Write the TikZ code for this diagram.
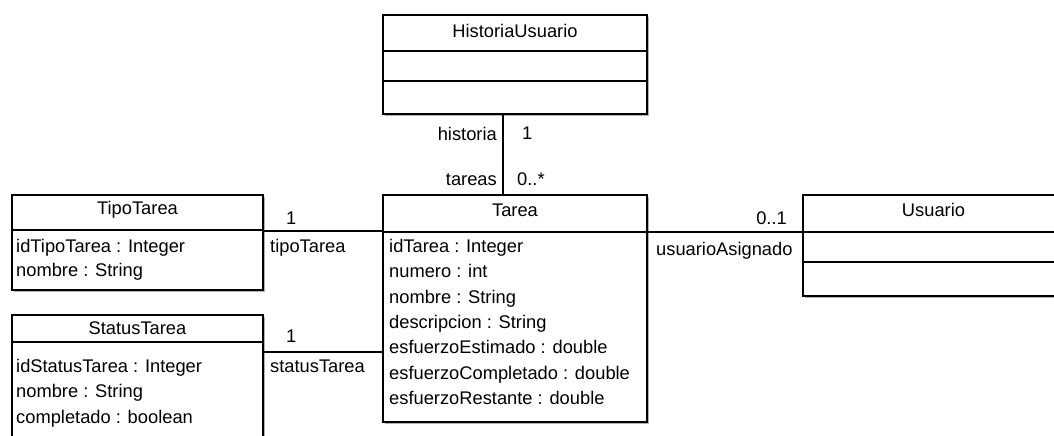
\documentclass[tikz,border=0pt]{standalone}
\usepackage{fontspec}
\setmainfont{Liberation Sans}
\usetikzlibrary{shadows}
\begin{document}
\begin{tikzpicture}[x=1pt,y=-1pt,
  cls/.style={draw=black, line width=1.4pt, fill=white, rectangle, inner sep=0pt,
    drop shadow={shadow xshift=2pt, shadow yshift=-2pt, fill=black!30, opacity=1}},
  txt/.style={font=\fontsize{18.3}{22}\selectfont, inner sep=0pt, text height=0.72em, text depth=0pt, yshift=-2pt},
  lft/.style={txt, anchor=west},
  rgt/.style={txt, anchor=east},
  rule/.style={line width=1.4pt},
  assoc/.style={line width=1.4pt}]
\useasboundingbox (0,0) rectangle (1054,436);
\clip (0,0) rectangle (1054,436);

% class boxes
\node[cls, minimum width=264, minimum height=99]  (hu)      at (515,64.5)   {};
\node[cls, minimum width=264, minimum height=227] (tarea)   at (515,308.5)  {};
\node[cls, minimum width=251, minimum height=95]  (tipo)    at (137.5,242.5) {};
\node[cls, minimum width=251, minimum height=145] (status)  at (137.5,387.5) {};
\node[cls, minimum width=261, minimum height=101] (usuario) at (933.5,245.5) {};

% compartment separators
\draw[rule] (hu.west |- 0,51) -- (hu.east |- 0,51);
\draw[rule] (hu.west |- 0,81) -- (hu.east |- 0,81);
\draw[rule] (tarea.west |- 0,232) -- (tarea.east |- 0,232);
\draw[rule] (tipo.west |- 0,230) -- (tipo.east |- 0,230);
\draw[rule] (status.west |- 0,342) -- (status.east |- 0,342);
\draw[rule] (usuario.west |- 0,232) -- (usuario.east |- 0,232);
\draw[rule] (usuario.west |- 0,262) -- (usuario.east |- 0,262);

% class names
\node[txt] (huName)  at (515,32)   {HistoriaUsuario};
\node[txt] (taName)  at (515,211)  {Tarea};
\node[txt] (tiName)  at (137.5,209) {TipoTarea};
\node[txt] (stName)  at (137.5,329) {StatusTarea};
\node[txt] (usName)  at (933.5,211) {Usuario};

% attributes
\node[lft] (ta1) at (389,247)   {idTarea : Integer};
\node[lft] (ta2) at (389,272.3) {numero : int};
\node[lft] (ta3) at (389,297.6) {nombre : String};
\node[lft] (ta4) at (389,322.9) {descripcion : String};
\node[lft] (ta5) at (389,348.2) {esfuerzoEstimado : double};
\node[lft] (ta6) at (389,373.5) {esfuerzoCompletado : double};
\node[lft] (ta7) at (389,398.8) {esfuerzoRestante : double};

\node[lft] (ti1) at (16,247)   {idTipoTarea : Integer};
\node[lft] (ti2) at (16,271)   {nombre : String};

\node[lft] (st1) at (16,367)   {idStatusTarea : Integer};
\node[lft] (st2) at (16,392.3) {nombre : String};
\node[lft] (st3) at (16,417.6) {completado : boolean};

% associations
\coordinate (hx) at (503,0);
\draw[assoc] (hu.south -| hx) -- (tarea.north -| hx);
\coordinate (ty) at (0,231);
\draw[assoc] (tipo.east |- ty) -- (tarea.west |- ty);
\coordinate (sy) at (0,352);
\draw[assoc] (status.east |- sy) -- (tarea.west |- sy);
\coordinate (uy) at (0,232);
\draw[assoc] (tarea.east |- uy) -- (usuario.west |- uy);

% association ends
\node[rgt] (lHist)   at (497,135) {historia};
\node[lft] (mHist)   at (522,134) {1};
\node[rgt] (lTar)    at (497,180) {tareas};
\node[lft] (mTar)    at (517,180) {0..*};
\node[lft] (mTipo)   at (286,219) {1};
\node[lft] (lTipo)   at (270,247) {tipoTarea};
\node[lft] (mStat)   at (286,337) {1};
\node[lft] (lStat)   at (270,367) {statusTarea};
\node[rgt] (mUsu)    at (787,219) {0..1};
\node[lft] (lUsu)    at (656,250) {usuarioAsignado};
\end{tikzpicture}
\end{document}
